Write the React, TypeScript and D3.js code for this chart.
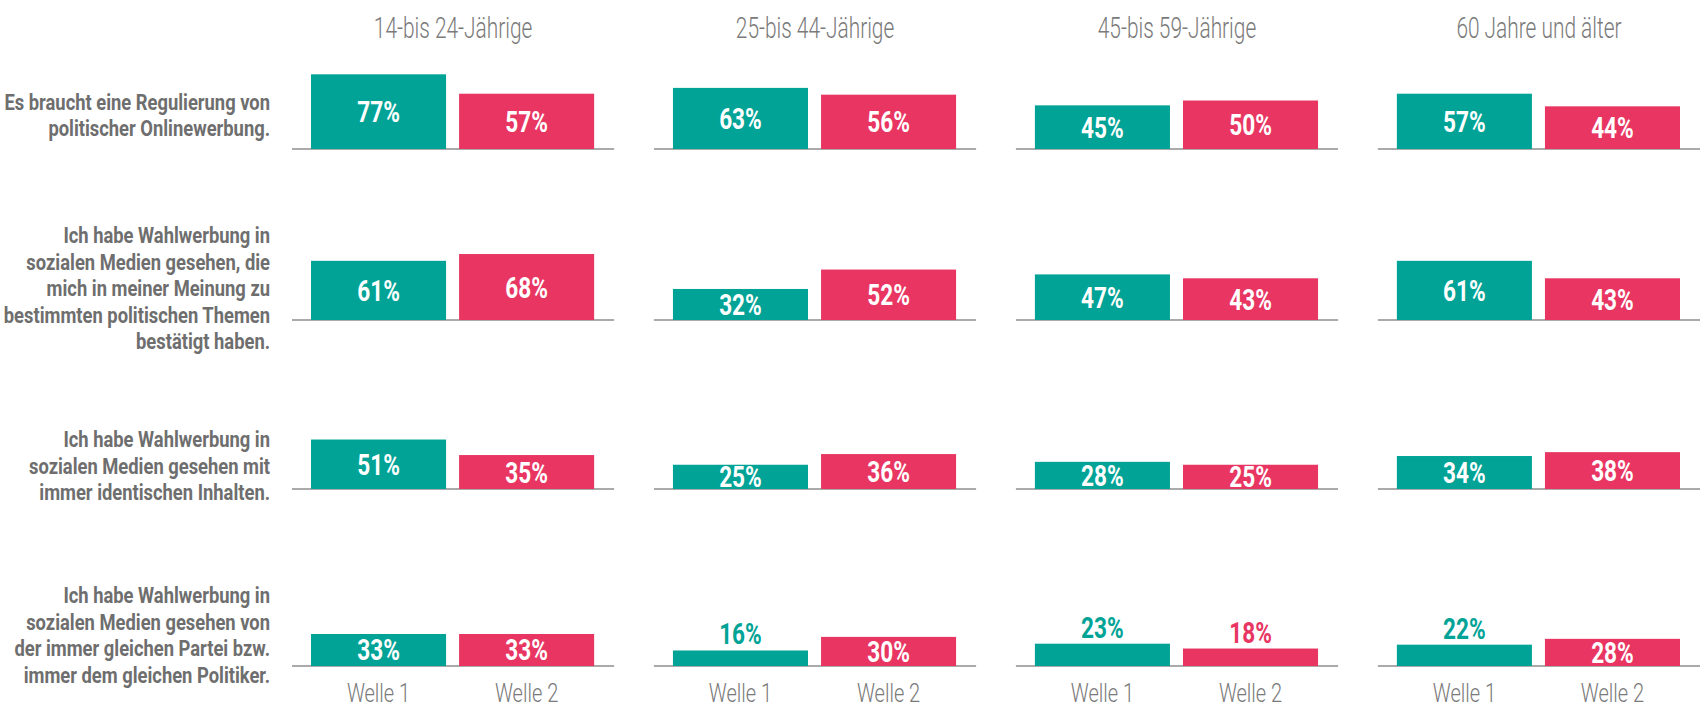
import React from "react";
import * as d3 from "d3";

const groups = ["14-bis 24-Jährige", "25-bis 44-Jährige", "45-bis 59-Jährige", "60 Jahre und älter"];
const waves = ["Welle 1", "Welle 2"];
const statements = [
  ["Es braucht eine Regulierung von", "politischer Onlinewerbung."],
  ["Ich habe Wahlwerbung in", "sozialen Medien gesehen, die", "mich in meiner Meinung zu", "bestimmten politischen Themen", "bestätigt haben."],
  ["Ich habe Wahlwerbung in", "sozialen Medien gesehen mit", "immer identischen Inhalten."],
  ["Ich habe Wahlwerbung in", "sozialen Medien gesehen von", "der immer gleichen Partei bzw.", "immer dem gleichen Politiker."],
];
// values[statement][group] for Welle 1 and Welle 2
const welle1 = [
  [77, 63, 45, 57],
  [61, 32, 47, 61],
  [51, 25, 28, 34],
  [33, 16, 23, 22],
];
const welle2 = [
  [57, 56, 50, 44],
  [68, 52, 43, 43],
  [35, 36, 25, 38],
  [33, 30, 18, 28],
];

const W = 1703;
const H = 709;
const COLORS = ["#00a396", "#e83562"];
const rowBase = [149, 320, 489, 666];
const labelFirstBaseline = [109.5, 243, 447, 603];
const FONT = "Roboto, 'Noto Sans', sans-serif";

function SText({ x, y, sx, anchor, size, weight, fill, children }: any) {
  return (
    <g transform={`translate(${x},${y}) scale(${sx},1)`}>
      <text x={0} y={0} textAnchor={anchor} fontFamily={FONT} fontSize={size} fontWeight={weight} fill={fill}>
        {children}
      </text>
    </g>
  );
}

export default function App() {
  const gx = d3.scaleBand<string>().domain(groups).range([292, 1700]).paddingInner(0.11).paddingOuter(0);
  const bx = d3.scaleBand<string>().domain(waves).range([19, gx.bandwidth() - 20]).paddingInner(0.088).paddingOuter(0);
  const hy = d3.scaleLinear().domain([0, 100]).range([0, 97]);

  return (
    <svg width={W} height={H} style={{ display: "block", position: "absolute", left: 0, top: 0 }}>
      <rect width={W} height={H} fill="#fff" />
      {groups.map((g) => (
        <SText key={g} x={gx(g)! + gx.bandwidth() / 2} y={38} sx={0.72} anchor="middle" size={29} weight={300} fill="#7a7a7a">
          {g}
        </SText>
      ))}
      {statements.map((lines, r) => (
        <g key={r}>
          {lines.map((ln, i) => (
            <SText key={i} x={270} y={labelFirstBaseline[r] + i * 26.5} sx={0.835} anchor="end" size={22} weight={700} fill="#6e6e6e">
              {ln}
            </SText>
          ))}
          {groups.map((g, gi) => {
            const x0 = gx(g)!;
            const base = rowBase[r];
            const vals = [welle1[r][gi], welle2[r][gi]];
            return (
              <g key={g}>
                <line x1={x0} x2={x0 + gx.bandwidth()} y1={base} y2={base} stroke="#aaaaaa" strokeWidth={2} />
                {waves.map((w, wi) => {
                  const v = vals[wi];
                  const h = hy(v);
                  const bxx = x0 + bx(w)!;
                  const cx = bxx + bx.bandwidth() / 2;
                  const inside = h >= 23;
                  const ly = inside ? base - h / 2 + 10.5 : base - h - 6;
                  return (
                    <g key={w}>
                      <rect x={bxx} y={base - h} width={bx.bandwidth()} height={h} fill={COLORS[wi]} />
                      <SText x={cx} y={ly} sx={0.78} anchor="middle" size={29} weight={700} fill={inside ? "#fff" : COLORS[wi]}>
                        {v}%
                      </SText>
                    </g>
                  );
                })}
              </g>
            );
          })}
        </g>
      ))}
      {groups.map((g) =>
        waves.map((w) => (
          <SText key={g + w} x={gx(g)! + bx(w)! + bx.bandwidth() / 2} y={702} sx={0.77} anchor="middle" size={26} weight={300} fill="#7a7a7a">
            {w}
          </SText>
        ))
      )}
    </svg>
  );
}
